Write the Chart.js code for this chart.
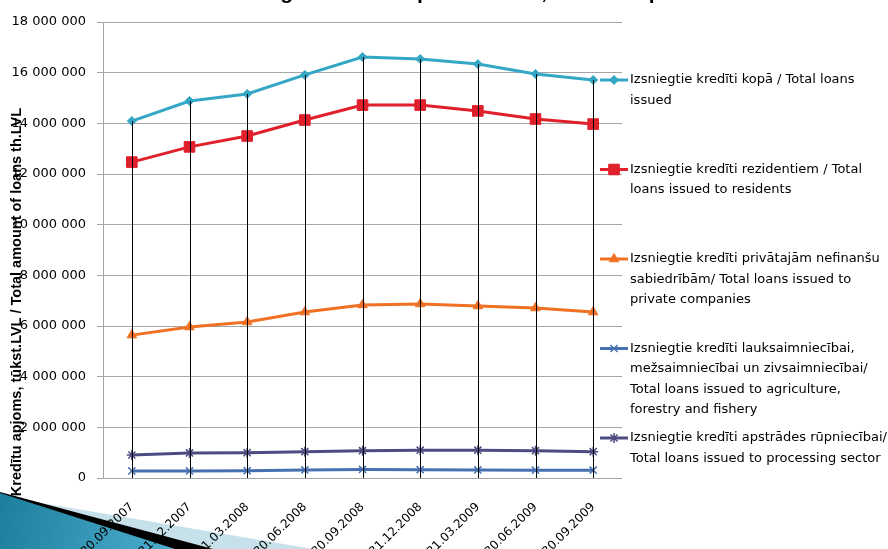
<!DOCTYPE html>
<html>
<head>
<meta charset="utf-8">
<script src="https://cdn.jsdelivr.net/npm/chart.js@4.4.0/dist/chart.umd.min.js"></script>
<style>
  html, body { margin: 0; padding: 0; background: #fff; }
  #wrap { width: 888px; height: 549px; position: relative; }
</style>
</head>
<body>
<div id="wrap"><canvas id="grafika" width="888" height="549"></canvas></div>
<script>
// Datu kategorijas (ceturkšņu beigu datumi)
const categories = ['30.09.2007', '31.12.2007', '31.03.2008', '30.06.2008', '30.09.2008',
    '31.12.2008', '31.03.2009', '30.06.2009', '30.09.2009'];

// Izsniegto kredītu apjoms, tūkst. LVL
const totalLoans = [14090000, 14880000, 15160000, 15910000, 16620000, 16540000, 16340000, 15950000, 15710000];
const residentLoans = [12470000, 13070000, 13500000, 14130000, 14720000, 14720000, 14490000, 14170000, 13970000];
const privateCompanyLoans = [5640000, 5960000, 6160000, 6550000, 6830000, 6870000, 6790000, 6710000, 6550000];
const agricultureLoans = [280000, 280000, 290000, 320000, 340000, 330000, 320000, 310000, 310000];
const processingLoans = [910000, 990000, 1000000, 1040000, 1080000, 1100000, 1100000, 1080000, 1040000];

// Y ass robežas
const yMin = 0;
const yMax = 18000000;
const yStep = 2000000;

// Leģendas teksti (rindās)
const seriesLabels = [
    ['Izsniegtie kredīti kopā / Total loans', 'issued'],
    ['Izsniegtie kredīti rezidentiem / Total', 'loans issued to residents'],
    ['Izsniegtie kredīti privātajām nefinanšu', 'sabiedrībām/ Total loans issued to', 'private companies'],
    ['Izsniegtie kredīti lauksaimniecībai,', 'mežsaimniecībai un zivsaimniecībai/', 'Total loans issued to agriculture,', 'forestry and fishery'],
    ['Izsniegtie kredīti apstrādes rūpniecībai/', 'Total loans issued to processing sector']
];
const yAxisTitle = 'Kredītu apjoms, tūkst.LVL / Total amount of loans th.LVL';
const chartTitle = 'Izsniegtie kredīti kopā tūkst.LVL, tai skaitā pa nozarēm';

function formatSpaces(v) {
    return String(v).replace(/\B(?=(\d{3})+(?!\d))/g, ' ');
}

function makeSet(idx, data, color, style, radius, bw) {
    return {
        label: seriesLabels[idx].join(' '),
        data: data,
        borderColor: color,
        backgroundColor: color,
        borderWidth: 3,
        pointStyle: style,
        pointRadius: radius,
        pointBorderColor: color,
        pointBackgroundColor: color,
        pointBorderWidth: bw,
        tension: 0
    };
}

// Dekoratīvais slīpais stūris apakšā pa kreisi (no slaida)
const slideDecor = {
    id: 'slideDecor',
    beforeDraw(chart) {
        const c = chart.ctx;
        c.save();
        c.fillStyle = '#c6e1ea';
        c.beginPath();
        c.moveTo(0, 496); c.lineTo(313, 549); c.lineTo(0, 549); c.closePath();
        c.fill();
        c.fillStyle = '#000';
        c.beginPath();
        c.moveTo(0, 492); c.lineTo(213, 549); c.lineTo(0, 549); c.closePath();
        c.fill();
        const g = c.createLinearGradient(0, 500, 175, 549);
        g.addColorStop(0, '#147a99');
        g.addColorStop(1, '#46abcd');
        c.fillStyle = g;
        c.beginPath();
        c.moveTo(0, 493); c.lineTo(175, 549); c.lineTo(0, 549); c.closePath();
        c.fill();
        // nedaudz svītru
        c.save();
        c.clip();
        c.strokeStyle = 'rgba(255,255,255,0.12)';
        c.lineWidth = 1;
        for (let x = -60; x < 200; x += 3) {
            c.beginPath(); c.moveTo(x, 549); c.lineTo(x + 50, 490); c.stroke();
        }
        c.restore();
        c.restore();

        // virsraksts, redzamas tikai burtu astes
        c.save();
        c.font = 'bold 21px "Liberation Sans"';
        c.fillStyle = '#000';
        c.textBaseline = 'alphabetic';
        c.fillText(chartTitle, 222, -1.5);
        c.restore();
    }
};

// Vertikālās līnijas no augstākā punkta līdz asij
const dropLines = {
    id: 'dropLines',
    afterDatasetsDraw(chart) {
        const c = chart.ctx;
        const x = chart.scales.x, y = chart.scales.y;
        c.save();
        c.strokeStyle = '#000';
        c.lineWidth = 1;
        categories.forEach(function (cat, i) {
            let top = yMin;
            chart.data.datasets.forEach(function (ds) { top = Math.max(top, ds.data[i]); });
            const px = Math.round(x.getPixelForValue(i)) + 0.5;
            c.beginPath();
            c.moveTo(px, y.getPixelForValue(top));
            c.lineTo(px, y.getPixelForValue(yMin));
            c.stroke();
        });
        c.restore();
    }
};

// Leģenda un Y ass nosaukums
const sideLegend = {
    id: 'sideLegend',
    afterDraw(chart) {
        const c = chart.ctx;
        c.save();
        c.font = 'bold 14.5px "Liberation Sans"';
        c.fillStyle = '#000';
        c.textAlign = 'center';
        c.textBaseline = 'middle';
        c.translate(17, 302);
        c.rotate(-Math.PI / 2);
        c.fillText(yAxisTitle, 0, 0);
        c.restore();

        c.save();
        chart.data.datasets.forEach(function (ds, i) {
            const y0 = 80 + i * 89.5;
            c.strokeStyle = ds.borderColor;
            c.lineWidth = 3;
            c.beginPath();
            c.moveTo(600, y0);
            c.lineTo(628, y0);
            c.stroke();
            if (Chart.helpers && Chart.helpers.drawPoint) {
                c.fillStyle = ds.pointBackgroundColor;
                c.strokeStyle = ds.pointBorderColor;
                c.lineWidth = ds.pointBorderWidth;
                Chart.helpers.drawPoint(c, {
                    pointStyle: ds.pointStyle,
                    radius: ds.pointRadius,
                    rotation: 0,
                    borderWidth: ds.pointBorderWidth
                }, 614, y0);
            }
            c.fillStyle = '#000';
            c.font = '13px "DejaVu Sans"';
            c.textAlign = 'left';
            c.textBaseline = 'middle';
            seriesLabels[i].forEach(function (line, j) {
                c.fillText(line, 630, y0 + j * 20.5);
            });
        });
        c.restore();
    }
};

const ctx = document.getElementById('grafika').getContext('2d');
const grafika = new Chart(ctx, {
    type: 'line',
    data: {
        labels: categories,
        datasets: [
            makeSet(0, totalLoans, '#34a6c6', 'rectRot', 4.5, 1),
            makeSet(1, residentLoans, '#e0202b', 'rect', 7.5, 1),
            makeSet(2, privateCompanyLoans, '#f07024', 'triangle', 5.5, 1),
            makeSet(3, agricultureLoans, '#4670b0', 'crossRot', 5, 1.5),
            makeSet(4, processingLoans, '#4d4b82', 'star', 5, 1.5)
        ]
    },
    options: {
        responsive: false,
        animation: false,
        layout: { padding: { left: 0, right: 266, top: 22, bottom: 0 } },
        plugins: {
            legend: { display: false },
            tooltip: { enabled: false }
        },
        scales: {
            x: {
                offset: true,
                grid: { display: false },
                border: { display: false },
                ticks: {
                    maxRotation: 45,
                    minRotation: 45,
                    padding: 14,
                    color: '#000',
                    font: { family: 'DejaVu Sans', size: 12 }
                },
                afterFit(scale) { scale.height = 71; }
            },
            y: {
                min: yMin,
                max: yMax,
                grid: { color: '#a6a6a6', lineWidth: 1, tickLength: 6 },
                border: { display: true, color: '#a6a6a6' },
                ticks: {
                    stepSize: yStep,
                    padding: 11,
                    color: '#000',
                    font: { family: 'DejaVu Sans', size: 13 },
                    callback: function (v) { return formatSpaces(v); }
                },
                afterFit(scale) { scale.width = 103; }
            }
        }
    },
    plugins: [slideDecor, dropLines, sideLegend]
});
</script>
</body>
</html>
